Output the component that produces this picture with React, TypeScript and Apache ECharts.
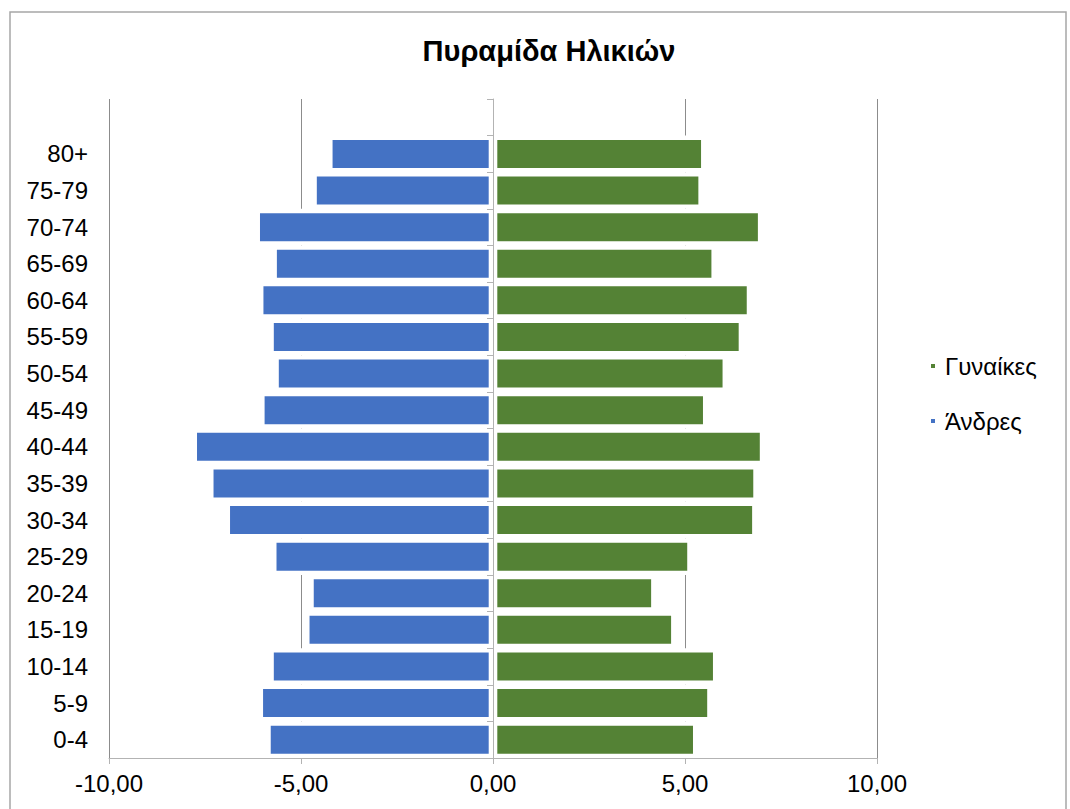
import React, { useEffect, useRef } from "react";
import * as echarts from "echarts";

const TITLE = "Πυραμίδα Ηλικιών";
const AGE_GROUPS = ["0-4", "5-9", "10-14", "15-19", "20-24", "25-29", "30-34", "35-39", "40-44", "45-49", "50-54", "55-59", "60-64", "65-69", "70-74", "75-79", "80+", ""];
const MEN_NAME = "Άνδρες";
const WOMEN_NAME = "Γυναίκες";
const MEN = [-5.90, -6.10, -5.82, -4.89, -4.78, -5.75, -6.96, -7.39, -7.82, -6.06, -5.69, -5.82, -6.09, -5.74, -6.18, -4.70, -4.29, null];
const WOMEN = [5.32, 5.69, 5.84, 4.75, 4.23, 5.17, 6.86, 6.89, 7.06, 5.58, 6.09, 6.51, 6.72, 5.80, 7.01, 5.46, 5.53, null];
const X_MIN = -10;
const X_MAX = 10;
const X_STEP = 5;

const FONT = '"Liberation Sans", Arial, sans-serif';

export default function App() {
  const ref = useRef<HTMLDivElement>(null);
  useEffect(() => {
    if (!ref.current) return;
    const chart = echarts.init(ref.current, null, { renderer: "svg" });
    const fmt = (v: number) => v.toFixed(2).replace(".", ",");
    chart.setOption({
      animation: false,
      backgroundColor: "#ffffff",
      textStyle: { fontFamily: FONT },
      graphic: [
        {
          type: "rect",
          shape: { x: 10, y: 12, width: 1056, height: 820 },
          style: { fill: "none", stroke: "#a6a6a6", lineWidth: 1.5 },
          z: -1,
        },
        {
          type: "text",
          x: 549,
          y: 51,
          style: {
            text: TITLE,
            fontFamily: FONT,
            fontSize: 29,
            fontWeight: "bold",
            fill: "#000000",
            textAlign: "center",
            textVerticalAlign: "middle",
          },
        },
      ],
      legend: {
        data: [WOMEN_NAME, MEN_NAME],
        orient: "vertical",
        left: 926,
        top: 349,
        icon: "rect",
        itemWidth: 4,
        itemHeight: 4,
        itemGap: 31,
        itemStyle: { borderWidth: 0 },
        textStyle: { fontSize: 24, color: "#000000", fontFamily: FONT, lineHeight: 24, padding: [0, 0, 0, 5] },
      },
      grid: { left: 109, right: 193, top: 99, bottom: 51, containLabel: false },
      xAxis: [
        {
          type: "value",
          min: X_MIN,
          max: X_MAX,
          interval: X_STEP,
          position: "bottom",
          axisLine: { show: false },
          axisTick: { show: false },
          axisLabel: { show: false },
          splitLine: { show: true, lineStyle: { color: "#8c8c8c", width: 1 } },
        },
        {
          type: "value",
          min: X_MIN,
          max: X_MAX,
          interval: X_STEP,
          position: "bottom",
          z: 5,
          axisLine: { show: true, onZero: false, lineStyle: { color: "#b3b3b3", width: 1 } },
          axisTick: { show: true, length: 6, lineStyle: { color: "#b3b3b3" } },
          axisLabel: { fontSize: 24, color: "#000000", margin: 13, formatter: fmt, fontFamily: FONT },
          splitLine: { show: false },
        },
      ],
      yAxis: [
        {
          type: "category",
          data: AGE_GROUPS,
          position: "left",
          axisLine: { show: false, onZero: false },
          axisTick: { show: false },
          axisLabel: { fontSize: 24, color: "#000000", margin: 21, fontFamily: FONT },
          splitLine: { show: false },
        },
        {
          type: "category",
          data: AGE_GROUPS,
          position: "left",
          z: 5,
          axisLine: { show: true, onZero: true, onZeroAxisIndex: 0, lineStyle: { color: "#b3b3b3", width: 1 } },
          axisTick: { show: true, length: 6, lineStyle: { color: "#b3b3b3" } },
          axisLabel: { show: false },
          splitLine: { show: false },
        },
      ],
      series: [
        {
          name: MEN_NAME,
          type: "bar",
          xAxisIndex: 0,
          yAxisIndex: 0,
          data: MEN,
          barGap: "-100%",
          barCategoryGap: "0%",
          itemStyle: { color: "#4472C4", borderColor: "#ffffff", borderWidth: 4.3 },
        },
        {
          name: WOMEN_NAME,
          type: "bar",
          xAxisIndex: 0,
          yAxisIndex: 0,
          data: WOMEN,
          barGap: "-100%",
          barCategoryGap: "0%",
          itemStyle: { color: "#548235", borderColor: "#ffffff", borderWidth: 4.3 },
        },
      ],
    });
    return () => chart.dispose();
  }, []);
  return <div ref={ref} style={{ position: "fixed", left: 0, top: 0, width: 1070, height: 809 }} />;
}
